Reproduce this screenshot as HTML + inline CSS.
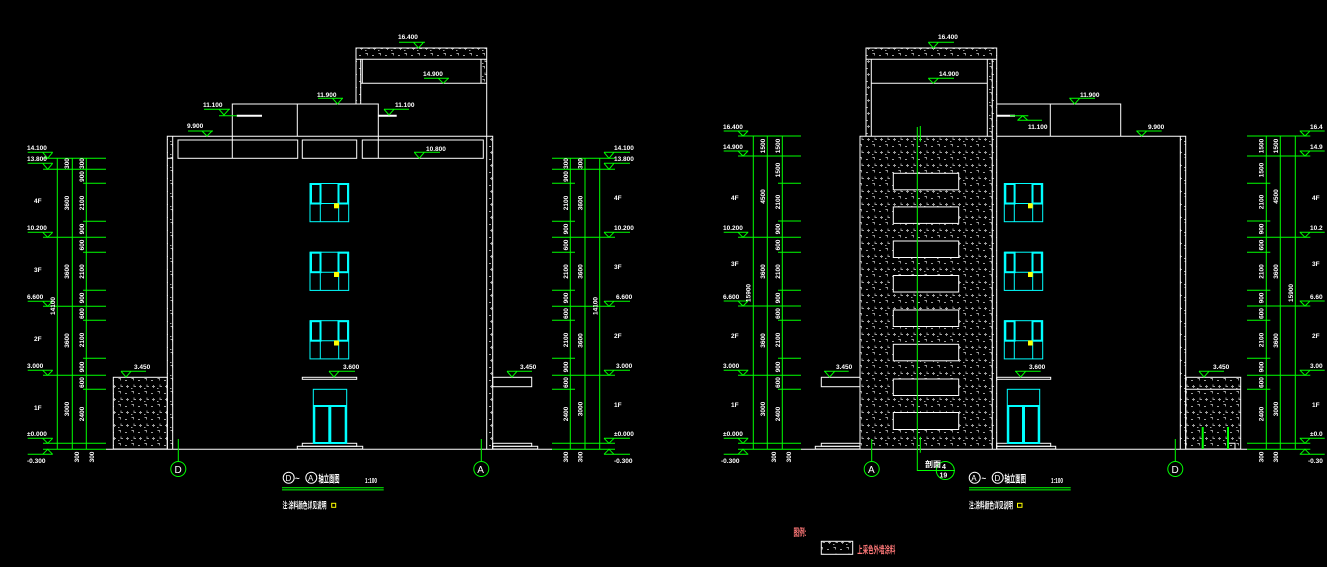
<!DOCTYPE html>
<html><head><meta charset="utf-8">
<style>
html,body{margin:0;padding:0;background:#000;}
svg{display:block;}
text{font-family:"Liberation Sans Narrow","Liberation Sans","Noto Sans CJK SC",sans-serif;font-weight:bold;fill:#fff;}
.s{font-size:6.5px;}
.w{stroke:#fff;fill:none;stroke-width:1;}
.g{stroke:#00ff00;fill:none;stroke-width:1;}
.c{stroke:#00ffff;fill:none;}
</style></head>
<body>
<svg width="1327" height="567" viewBox="0 0 1327 567" xmlns="http://www.w3.org/2000/svg">
<defs>
<pattern id="h" width="13" height="13" patternUnits="userSpaceOnUse">
<path d="M1.5 1.5h2v2 M8 3.5h2 M4 7.5v2h2 M10.5 8v3 M9 9.5h3 M1 11.5h1.5" stroke="#a0a0a0" stroke-width="0.9" fill="none"/>
</pattern>
</defs>
<rect width="1327" height="567" fill="#000"/>

<!-- ================= LEFT DRAWING ================= -->
<rect x="356" y="48" width="130.7" height="11.3" fill="url(#h)"/>
<rect x="356" y="59" width="4.7" height="45" fill="url(#h)"/>
<rect x="481" y="59" width="5.7" height="24" fill="url(#h)"/>
<rect x="167.3" y="136.3" width="5.4" height="312.7" fill="url(#h)"/>
<rect x="486.7" y="136.3" width="6" height="312.7" fill="url(#h)"/>
<rect x="113.3" y="377.3" width="54" height="71.7" fill="url(#h)"/>

<g class="w">
<path d="M356 104V48H486.7V449 M360.7 59.3V104 M362.3 59.3H481V83.3 M362.3 59.3V83.3 M360.7 83.3H486.7 M356 59.3H486.7"/>
<path d="M232.3 158.3V104H378.3V158.3 M297.3 104V136.3"/>
<path d="M167.3 449V136.3H492.7V449 M172.7 136.3V449 M167.3 158.3H172.7"/>
<rect x="178" y="140" width="119.7" height="18.3"/>
<rect x="302.3" y="140" width="54.4" height="18.3"/>
<rect x="362.3" y="140" width="121" height="18.3"/>
<rect x="113.3" y="377.3" width="54" height="71.7"/>
<rect x="492.7" y="377.3" width="39" height="9.4"/>
<rect x="492.7" y="443.3" width="39" height="3"/>
<rect x="492.7" y="446.3" width="45" height="2.7"/>
<rect x="302.3" y="377.3" width="54.4" height="2"/>
<rect x="302.3" y="443.3" width="54.4" height="3"/>
<rect x="297.3" y="446.3" width="65.4" height="2.7"/>
<path d="M106 449.3H552"/>
</g>
<path d="M236.7 115.7H262 M378.3 115.7H396.7" stroke="#fff" stroke-width="2"/>

<g class="c">
<rect x="310" y="183.5" width="38.7" height="38.2" stroke-width="1"/>
<rect x="311" y="184" width="9.5" height="19.5" stroke-width="2"/>
<rect x="338.5" y="184" width="9.5" height="19.5" stroke-width="2"/>
<path d="M310 203.5H348.7 M320.3 203.5V221.7 M338.7 203.5V221.7" stroke-width="1"/>

<rect x="310" y="252.2" width="38.7" height="38.2" stroke-width="1"/>
<rect x="311" y="252.7" width="9.5" height="19.5" stroke-width="2"/>
<rect x="338.5" y="252.7" width="9.5" height="19.5" stroke-width="2"/>
<path d="M310 272.2H348.7 M320.3 272.2V290.4 M338.7 272.2V290.4" stroke-width="1"/>

<rect x="310" y="320.7" width="38.7" height="38.2" stroke-width="1"/>
<rect x="311" y="321.2" width="9.5" height="19.5" stroke-width="2"/>
<rect x="338.5" y="321.2" width="9.5" height="19.5" stroke-width="2"/>
<path d="M310 340.7H348.7 M320.3 340.7V358.9 M338.7 340.7V358.9" stroke-width="1"/>

<rect x="313.3" y="389.3" width="33.4" height="54" stroke-width="1"/>
<rect x="314.3" y="406" width="15" height="37" stroke-width="2"/>
<rect x="330.3" y="406" width="15.4" height="37" stroke-width="2"/>
</g>
<rect x="334" y="203.3" width="5" height="5" fill="#ffff00"/>
<rect x="334" y="272" width="5" height="5" fill="#ffff00"/>
<rect x="334" y="340.5" width="5" height="5" fill="#ffff00"/>

<g class="g">
<path d="M188 131H213 M202 131L207 136L212 131"/>
<path d="M204 109.3H230 M219 109.3L224 115L229 109.3 M219 115.7H237"/>
<path d="M318 98.3H343 M332.5 98.3L337.5 104L342.5 98.3"/>
<path d="M384 109.3H409 M384 109.3L389 115L394 109.3"/>
<path d="M424 78.3H449 M438.3 78.3L443.3 83.3L448.3 78.3"/>
<path d="M399 42.3H425 M413.5 42.3L418.5 48L423.5 42.3"/>
<path d="M414 152.3H440 M414.3 152.3L419.3 158.3L424.3 152.3"/>
<path d="M121 371.3H146 M121 371.3L126 377L131 371.3"/>
<path d="M329 371.3H355 M329 371.3L334 377L339 371.3"/>
<path d="M507 371.3H532 M507 371.3L512 377L517 371.3"/>
</g>
<text class="s" x="187" y="128">9.900</text>
<text class="s" x="203" y="107">11.100</text>
<text class="s" x="317" y="97">11.900</text>
<text class="s" x="395" y="107">11.100</text>
<text class="s" x="423" y="76">14.900</text>
<text class="s" x="398" y="39">16.400</text>
<text class="s" x="426" y="151">10.800</text>
<text class="s" x="134" y="369">3.450</text>
<text class="s" x="343" y="369">3.600</text>
<text class="s" x="520" y="369">3.450</text>

<g class="g">
<path d="M178.3 439V461.5 M481.3 439V461.5"/>
<circle cx="178.3" cy="469" r="7.5"/>
<circle cx="481.3" cy="469" r="7.5"/>
</g>
<text x="174.5" y="473" style="font-size:10px;font-weight:normal">D</text>
<text x="477.3" y="473" style="font-size:10px;font-weight:normal">A</text>

<g class="w">
<circle cx="288.7" cy="477.7" r="5.5"/>
<circle cx="311.3" cy="477.7" r="5.5"/>
</g>
<text x="285.5" y="481" style="font-size:8px;font-weight:normal">D</text>
<text x="308" y="481" style="font-size:8px;font-weight:normal">A</text>
<text x="295" y="481" style="font-size:8px">~</text>
<text x="318.5" y="482.5" style="font-size:10px" textLength="21" lengthAdjust="spacingAndGlyphs">轴立面图</text>
<text x="365" y="483" style="font-size:7px" textLength="12" lengthAdjust="spacingAndGlyphs">1:100</text>
<path d="M282 487.7H383.7 M282 489.9H383.7" stroke="#00ff00" stroke-width="1"/>
<text x="282.5" y="508.5" style="font-size:9px" textLength="44" lengthAdjust="spacingAndGlyphs">注:涂料颜色详见说明</text>
<rect x="331.7" y="503.3" width="4" height="4" fill="none" stroke="#ffff00" stroke-width="1"/>

<g class="g">
<path d="M57.3 158.3V449.3 M72.3 158.3V449.3 M86.3 158.3V449.3"/>
<path d="M43 158.3H106 M43 169.3H106 M43 237.3H106 M43 306.3H106 M43 375.3H106 M43 443.3H106 M43 449.3H106"/>
<path d="M83 183.3H106 M83 221.3H106 M83 252.3H106 M83 290.3H106 M83 320.3H106 M83 358.3H106 M83 389.3H106"/>
<path d="M27.7 152.3H52.7 M42.7 152.3L47.7 158.3L52.7 152.3"/>
<path d="M27.7 163.3H52.7 M42.7 163.3L47.7 169.3L52.7 163.3"/>
<path d="M27.7 232.3H52.7 M42.7 232.3L47.7 237.3L52.7 232.3"/>
<path d="M27.7 301.3H52.7 M42.7 301.3L47.7 306.3L52.7 301.3"/>
<path d="M27.7 370.3H52.7 M42.7 370.3L47.7 375.3L52.7 370.3"/>
<path d="M27.7 438.3H52.7 M42.7 438.3L47.7 443.3L52.7 438.3"/>
<path d="M27.7 454.3H52.7 M42.7 454.3L47.7 449.3L52.7 454.3"/>
</g>
<text x="27" y="150" class="s">14.100</text>
<text x="27" y="161" class="s">13.800</text>
<text x="27" y="230" class="s">10.200</text>
<text x="27" y="299" class="s">6.600</text>
<text x="27" y="368" class="s">3.000</text>
<text x="27" y="436" class="s">±0.000</text>
<text x="27" y="463" class="s">-0.300</text>
<text x="34" y="203" class="s">4F</text>
<text x="34" y="272" class="s">3F</text>
<text x="34" y="341" class="s">2F</text>
<text x="34" y="410" class="s">1F</text>
<g>
<text class="s" transform="translate(69,163.5) rotate(-90)" text-anchor="middle">300</text>
<text class="s" transform="translate(69,203) rotate(-90)" text-anchor="middle">3600</text>
<text class="s" transform="translate(69,271.5) rotate(-90)" text-anchor="middle">3600</text>
<text class="s" transform="translate(69,340.5) rotate(-90)" text-anchor="middle">3600</text>
<text class="s" transform="translate(69,409) rotate(-90)" text-anchor="middle">3000</text>
<text class="s" transform="translate(84,163.5) rotate(-90)" text-anchor="middle">300</text>
<text class="s" transform="translate(84,176.5) rotate(-90)" text-anchor="middle">900</text>
<text class="s" transform="translate(84,203) rotate(-90)" text-anchor="middle">2100</text>
<text class="s" transform="translate(84,229) rotate(-90)" text-anchor="middle">900</text>
<text class="s" transform="translate(84,245) rotate(-90)" text-anchor="middle">600</text>
<text class="s" transform="translate(84,271.5) rotate(-90)" text-anchor="middle">2100</text>
<text class="s" transform="translate(84,298) rotate(-90)" text-anchor="middle">900</text>
<text class="s" transform="translate(84,313.5) rotate(-90)" text-anchor="middle">600</text>
<text class="s" transform="translate(84,340) rotate(-90)" text-anchor="middle">2100</text>
<text class="s" transform="translate(84,367) rotate(-90)" text-anchor="middle">900</text>
<text class="s" transform="translate(84,382.5) rotate(-90)" text-anchor="middle">600</text>
<text class="s" transform="translate(84,414) rotate(-90)" text-anchor="middle">2400</text>
<text class="s" transform="translate(55,306) rotate(-90)" text-anchor="middle">14100</text>
<text class="s" transform="translate(79,457) rotate(-90)" text-anchor="middle">300</text>
<text class="s" transform="translate(94,457) rotate(-90)" text-anchor="middle">300</text>
</g>

<g class="g">
<path d="M570.3 158.3V449.3 M585 158.3V449.3 M599.7 158.3V449.3"/>
<path d="M552 158.3H615 M552 169.3H615 M552 237.3H615 M552 306.3H615 M552 375.3H615 M552 443.3H615 M552 449.3H615"/>
<path d="M552 183.3H575 M552 221.3H575 M552 252.3H575 M552 290.3H575 M552 320.3H575 M552 358.3H575 M552 389.3H575"/>
<path d="M604 152.3H630 M604 152.3L609 158.3L614 152.3"/>
<path d="M604 163.3H630 M604 163.3L609 169.3L614 163.3"/>
<path d="M604 232.3H630 M604 232.3L609 237.3L614 232.3"/>
<path d="M604 301.3H630 M604 301.3L609 306.3L614 301.3"/>
<path d="M604 370.3H630 M604 370.3L609 375.3L614 370.3"/>
<path d="M604 438.3H630 M604 438.3L609 443.3L614 438.3"/>
<path d="M604 454.3H630 M604 454.3L609 449.3L614 454.3"/>
</g>
<text x="614" y="150" class="s">14.100</text>
<text x="614" y="161" class="s">13.800</text>
<text x="614" y="230" class="s">10.200</text>
<text x="616" y="299" class="s">6.600</text>
<text x="616" y="368" class="s">3.000</text>
<text x="614" y="436" class="s">±0.000</text>
<text x="614" y="463" class="s">-0.300</text>
<text x="614" y="200" class="s">4F</text>
<text x="614" y="269" class="s">3F</text>
<text x="614" y="338" class="s">2F</text>
<text x="614" y="407" class="s">1F</text>
<g>
<text class="s" transform="translate(568,163.5) rotate(-90)" text-anchor="middle">300</text>
<text class="s" transform="translate(568,176.5) rotate(-90)" text-anchor="middle">900</text>
<text class="s" transform="translate(568,203) rotate(-90)" text-anchor="middle">2100</text>
<text class="s" transform="translate(568,229) rotate(-90)" text-anchor="middle">900</text>
<text class="s" transform="translate(568,245) rotate(-90)" text-anchor="middle">600</text>
<text class="s" transform="translate(568,271.5) rotate(-90)" text-anchor="middle">2100</text>
<text class="s" transform="translate(568,298) rotate(-90)" text-anchor="middle">900</text>
<text class="s" transform="translate(568,313.5) rotate(-90)" text-anchor="middle">600</text>
<text class="s" transform="translate(568,340) rotate(-90)" text-anchor="middle">2100</text>
<text class="s" transform="translate(568,367) rotate(-90)" text-anchor="middle">900</text>
<text class="s" transform="translate(568,382.5) rotate(-90)" text-anchor="middle">600</text>
<text class="s" transform="translate(568,414) rotate(-90)" text-anchor="middle">2400</text>
<text class="s" transform="translate(582.5,163.5) rotate(-90)" text-anchor="middle">300</text>
<text class="s" transform="translate(582.5,203) rotate(-90)" text-anchor="middle">3600</text>
<text class="s" transform="translate(582.5,271.5) rotate(-90)" text-anchor="middle">3600</text>
<text class="s" transform="translate(582.5,340.5) rotate(-90)" text-anchor="middle">3600</text>
<text class="s" transform="translate(582.5,409) rotate(-90)" text-anchor="middle">3000</text>
<text class="s" transform="translate(597.5,306) rotate(-90)" text-anchor="middle">14100</text>
<text class="s" transform="translate(568,457) rotate(-90)" text-anchor="middle">300</text>
<text class="s" transform="translate(582.5,457) rotate(-90)" text-anchor="middle">300</text>
</g>

<!-- ================= RIGHT DRAWING ================= -->
<rect x="866" y="48" width="130.7" height="11.3" fill="url(#h)"/>
<rect x="866" y="59" width="5.3" height="77.3" fill="url(#h)"/>
<rect x="987.3" y="59" width="9.4" height="77.3" fill="url(#h)"/>
<rect x="860" y="136.3" width="132.3" height="312.7" fill="url(#h)"/>
<rect x="992.3" y="136.3" width="4.4" height="312.7" fill="url(#h)"/>
<rect x="1180.3" y="136.3" width="5.4" height="312.7" fill="url(#h)"/>
<rect x="1185.7" y="377.3" width="55" height="71.7" fill="url(#h)"/>

<g class="w">
<path d="M866 136.3V48H996.7V449 M866 59.3H996.7 M871.3 59.3V136.3 M987.3 59.3V136.3 M871.3 83.3H987.3 M992.3 59.3V449"/>
<path d="M860 449V136.3H992.3"/>
<path d="M996.7 104H1120.7V136.3 M1050.3 104V136.3"/>
<path d="M996.7 136.3H1185.7V449 M1180.3 136.3V449"/>
<rect x="893.3" y="173.3" width="65.4" height="16.5" fill="#000"/>
<rect x="893.3" y="206.9" width="65.4" height="16.5" fill="#000"/>
<rect x="893.3" y="241" width="65.4" height="16.5" fill="#000"/>
<rect x="893.3" y="275.5" width="65.4" height="16.5" fill="#000"/>
<rect x="893.3" y="310" width="65.4" height="16.5" fill="#000"/>
<rect x="893.3" y="344.3" width="65.4" height="16.5" fill="#000"/>
<rect x="893.3" y="379" width="65.4" height="16.5" fill="#000"/>
<rect x="893.3" y="412.5" width="65.4" height="17" fill="#000"/>
<rect x="821.3" y="377.3" width="38.7" height="9.4"/>
<rect x="821.3" y="443.3" width="38.7" height="3"/>
<rect x="815.3" y="446.3" width="44.7" height="2.7"/>
<rect x="1185.7" y="377.3" width="55" height="71.7"/>
<path d="M1185.7 389.3H1240.7 M1229 443.3H1235V449"/>
<rect x="996.7" y="377.3" width="54" height="2"/>
<rect x="996.7" y="443.3" width="54" height="3"/>
<rect x="996.7" y="446.3" width="59" height="2.7"/>
<path d="M801 449.3H1247"/>
</g>
<path d="M996.7 115.7H1015" stroke="#fff" stroke-width="2"/>

<g class="c">
<rect x="1004.3" y="183.5" width="38.4" height="38.2" stroke-width="1"/>
<rect x="1005.3" y="184" width="9.3" height="19.5" stroke-width="2"/>
<rect x="1032.5" y="184" width="9.3" height="19.5" stroke-width="2"/>
<path d="M1004.3 203.5H1042.7 M1014.3 203.5V221.7 M1032.7 203.5V221.7" stroke-width="1"/>

<rect x="1004.3" y="252.2" width="38.4" height="38.2" stroke-width="1"/>
<rect x="1005.3" y="252.7" width="9.3" height="19.5" stroke-width="2"/>
<rect x="1032.5" y="252.7" width="9.3" height="19.5" stroke-width="2"/>
<path d="M1004.3 272.2H1042.7 M1014.3 272.2V290.4 M1032.7 272.2V290.4" stroke-width="1"/>

<rect x="1004.3" y="320.7" width="38.4" height="38.2" stroke-width="1"/>
<rect x="1005.3" y="321.2" width="9.3" height="19.5" stroke-width="2"/>
<rect x="1032.5" y="321.2" width="9.3" height="19.5" stroke-width="2"/>
<path d="M1004.3 340.7H1042.7 M1014.3 340.7V358.9 M1032.7 340.7V358.9" stroke-width="1"/>

<rect x="1007.3" y="389.3" width="32.4" height="54" stroke-width="1"/>
<rect x="1008.3" y="406" width="14.7" height="37" stroke-width="2"/>
<rect x="1024" y="406" width="14.7" height="37" stroke-width="2"/>
</g>
<rect x="1028" y="203.3" width="4.7" height="5" fill="#ffff00"/>
<rect x="1028" y="272" width="4.7" height="5" fill="#ffff00"/>
<rect x="1028" y="340.5" width="4.7" height="5" fill="#ffff00"/>

<g class="g">
<path d="M917.3 127V470.5H955"/>
<path d="M920.3 126V141.7 M920.3 436.7V452.7"/>
<circle cx="945.3" cy="470.5" r="9"/>
<path d="M871.7 439V461.5 M1175.3 439V461.5"/>
<circle cx="871.7" cy="469" r="7.5"/>
<circle cx="1175.3" cy="469" r="7.5"/>
<path d="M928.3 42.3H954 M928.3 42.3L933.3 48L938.3 42.3"/>
<path d="M928.3 78.3H954 M928.3 78.3L933.3 83.3L938.3 78.3"/>
<path d="M1069.3 98.3H1095 M1069.7 98.3L1074.7 104L1079.7 98.3"/>
<path d="M1010 115.7H1028.3 M1017.7 120.3L1022.7 115.7L1027.7 120.3 M1017.3 120.3H1042"/>
<path d="M1136.3 131H1161.7 M1136.7 131L1141.7 136L1146.7 131"/>
<path d="M824 371.3H848.7 M824.7 371.3L829.7 377L834.7 371.3"/>
<path d="M1015 371.3H1040.7 M1015.7 371.3L1020.7 377L1025.7 371.3"/>
<path d="M1199 371.3H1224 M1199 371.3L1204 377L1209 371.3"/>
</g>
<path d="M1202.7 427V449 M1228 427V449" stroke="#00ff00" stroke-width="2"/>
<text x="942" y="469" style="font-size:7px">4</text>
<text x="939.5" y="477.5" style="font-size:7px">19</text>
<text x="925" y="467" style="font-size:8px">剖面</text>
<text x="868" y="473" style="font-size:10px;font-weight:normal">A</text>
<text x="1171.5" y="473" style="font-size:10px;font-weight:normal">D</text>
<text class="s" x="938" y="39">16.400</text>
<text class="s" x="939" y="76">14.900</text>
<text class="s" x="1080" y="97">11.900</text>
<text class="s" x="1028" y="129">11.100</text>
<text class="s" x="1148" y="129">9.900</text>
<text class="s" x="836" y="369">3.450</text>
<text class="s" x="1029" y="369">3.600</text>
<text class="s" x="1213" y="369">3.450</text>

<g class="w">
<circle cx="974.7" cy="477.7" r="5.5"/>
<circle cx="997.7" cy="477.7" r="5.5"/>
</g>
<text x="971.3" y="481" style="font-size:8px;font-weight:normal">A</text>
<text x="994.5" y="481" style="font-size:8px;font-weight:normal">D</text>
<text x="981.5" y="481" style="font-size:8px">~</text>
<text x="1004.5" y="482.5" style="font-size:10px" textLength="21.5" lengthAdjust="spacingAndGlyphs">轴立面图</text>
<text x="1051" y="483" style="font-size:7px" textLength="12" lengthAdjust="spacingAndGlyphs">1:100</text>
<path d="M969 487.7H1070.7 M969 489.9H1070.7" stroke="#00ff00" stroke-width="1"/>
<text x="969" y="508.5" style="font-size:9px" textLength="44" lengthAdjust="spacingAndGlyphs">注:涂料颜色详见说明</text>
<rect x="1017.5" y="503.3" width="4.5" height="4" fill="none" stroke="#ffff00" stroke-width="1"/>

<g class="g">
<path d="M753.3 136V449.3 M767.3 136V449.3 M782.3 136V449.3"/>
<path d="M738 136H801 M738 156H801 M738 237.3H801 M738 306H801 M738 375.3H801 M738 443.3H801 M738 449.3H801"/>
<path d="M778 183.3H801 M778 221H801 M778 252.3H801 M778 290.3H801 M778 320.3H801 M778 358.3H801 M778 389.3H801"/>
<path d="M723.7 131H748.3 M738 131L743 136L748 131"/>
<path d="M723.7 151H748.3 M738 151L743 156L748 151"/>
<path d="M723.7 232.3H748.3 M738 232.3L743 237.3L748 232.3"/>
<path d="M723.7 301H748.3 M738 301L743 306L748 301"/>
<path d="M723.7 370.3H748.3 M738 370.3L743 375.3L748 370.3"/>
<path d="M723.7 438.3H748.3 M738 438.3L743 443.3L748 438.3"/>
<path d="M723.7 454.3H748.3 M738 454.3L743 449.3L748 454.3"/>
</g>
<text x="723" y="129" class="s">16.400</text>
<text x="723" y="149" class="s">14.900</text>
<text x="723" y="230" class="s">10.200</text>
<text x="723" y="299" class="s">6.600</text>
<text x="723" y="368" class="s">3.000</text>
<text x="723" y="436" class="s">±0.000</text>
<text x="721" y="463" class="s">-0.300</text>
<text x="731" y="200" class="s">4F</text>
<text x="731" y="266" class="s">3F</text>
<text x="731" y="338" class="s">2F</text>
<text x="731" y="407" class="s">1F</text>
<g>
<text class="s" transform="translate(765,146) rotate(-90)" text-anchor="middle">1500</text>
<text class="s" transform="translate(765,196.5) rotate(-90)" text-anchor="middle">4500</text>
<text class="s" transform="translate(765,271.5) rotate(-90)" text-anchor="middle">3600</text>
<text class="s" transform="translate(765,340.5) rotate(-90)" text-anchor="middle">3600</text>
<text class="s" transform="translate(765,409) rotate(-90)" text-anchor="middle">3000</text>
<text class="s" transform="translate(780,146) rotate(-90)" text-anchor="middle">1500</text>
<text class="s" transform="translate(780,170) rotate(-90)" text-anchor="middle">1500</text>
<text class="s" transform="translate(780,202) rotate(-90)" text-anchor="middle">2100</text>
<text class="s" transform="translate(780,229) rotate(-90)" text-anchor="middle">900</text>
<text class="s" transform="translate(780,245) rotate(-90)" text-anchor="middle">600</text>
<text class="s" transform="translate(780,271.5) rotate(-90)" text-anchor="middle">2100</text>
<text class="s" transform="translate(780,298) rotate(-90)" text-anchor="middle">900</text>
<text class="s" transform="translate(780,313.5) rotate(-90)" text-anchor="middle">600</text>
<text class="s" transform="translate(780,340) rotate(-90)" text-anchor="middle">2100</text>
<text class="s" transform="translate(780,367) rotate(-90)" text-anchor="middle">900</text>
<text class="s" transform="translate(780,382.5) rotate(-90)" text-anchor="middle">600</text>
<text class="s" transform="translate(780,414) rotate(-90)" text-anchor="middle">2400</text>
<text class="s" transform="translate(750.5,293) rotate(-90)" text-anchor="middle">15900</text>
<text class="s" transform="translate(776,457) rotate(-90)" text-anchor="middle">300</text>
<text class="s" transform="translate(791,457) rotate(-90)" text-anchor="middle">300</text>
</g>

<g class="g">
<path d="M1266.3 136V449.3 M1280.3 136V449.3 M1295.3 136V449.3"/>
<path d="M1247 136H1310.3 M1247 156H1310.3 M1247 237.3H1310.3 M1247 306H1310.3 M1247 375.3H1310.3 M1247 443.3H1310.3 M1247 449.3H1310.3"/>
<path d="M1247 183.3H1270.3 M1247 221H1270.3 M1247 252.3H1270.3 M1247 290.3H1270.3 M1247 320.3H1270.3 M1247 358.3H1270.3 M1247 389.3H1270.3"/>
<path d="M1299.7 131H1324.7 M1300 131L1305 136L1310 131"/>
<path d="M1299.7 151H1324.7 M1300 151L1305 156L1310 151"/>
<path d="M1299.7 232.3H1324.7 M1300 232.3L1305 237.3L1310 232.3"/>
<path d="M1299.7 301H1324.7 M1300 301L1305 306L1310 301"/>
<path d="M1299.7 370.3H1324.7 M1300 370.3L1305 375.3L1310 370.3"/>
<path d="M1299.7 438.3H1324.7 M1300 438.3L1305 443.3L1310 438.3"/>
<path d="M1299.7 454.3H1324.7 M1300 454.3L1305 449.3L1310 454.3"/>
</g>
<text x="1310" y="129" class="s">16.4</text>
<text x="1310" y="149" class="s">14.9</text>
<text x="1310" y="230" class="s">10.2</text>
<text x="1310" y="299" class="s">6.60</text>
<text x="1310" y="368" class="s">3.00</text>
<text x="1310" y="436" class="s">±0.0</text>
<text x="1308" y="463" class="s">-0.30</text>
<text x="1312" y="200" class="s">4F</text>
<text x="1312" y="266" class="s">3F</text>
<text x="1312" y="338" class="s">2F</text>
<text x="1312" y="407" class="s">1F</text>
<g>
<text class="s" transform="translate(1263.5,146) rotate(-90)" text-anchor="middle">1500</text>
<text class="s" transform="translate(1263.5,170) rotate(-90)" text-anchor="middle">1500</text>
<text class="s" transform="translate(1263.5,202) rotate(-90)" text-anchor="middle">2100</text>
<text class="s" transform="translate(1263.5,229) rotate(-90)" text-anchor="middle">900</text>
<text class="s" transform="translate(1263.5,245) rotate(-90)" text-anchor="middle">600</text>
<text class="s" transform="translate(1263.5,271.5) rotate(-90)" text-anchor="middle">2100</text>
<text class="s" transform="translate(1263.5,298) rotate(-90)" text-anchor="middle">900</text>
<text class="s" transform="translate(1263.5,313.5) rotate(-90)" text-anchor="middle">600</text>
<text class="s" transform="translate(1263.5,340) rotate(-90)" text-anchor="middle">2100</text>
<text class="s" transform="translate(1263.5,367) rotate(-90)" text-anchor="middle">900</text>
<text class="s" transform="translate(1263.5,382.5) rotate(-90)" text-anchor="middle">600</text>
<text class="s" transform="translate(1263.5,414) rotate(-90)" text-anchor="middle">2400</text>
<text class="s" transform="translate(1278,146) rotate(-90)" text-anchor="middle">1500</text>
<text class="s" transform="translate(1278,196.5) rotate(-90)" text-anchor="middle">4500</text>
<text class="s" transform="translate(1278,271.5) rotate(-90)" text-anchor="middle">3600</text>
<text class="s" transform="translate(1278,340.5) rotate(-90)" text-anchor="middle">3600</text>
<text class="s" transform="translate(1278,409) rotate(-90)" text-anchor="middle">3000</text>
<text class="s" transform="translate(1293,293) rotate(-90)" text-anchor="middle">15900</text>
<text class="s" transform="translate(1263.5,457) rotate(-90)" text-anchor="middle">300</text>
<text class="s" transform="translate(1278,457) rotate(-90)" text-anchor="middle">300</text>
</g>

<text x="793.5" y="536" style="font-size:10px;fill:#ff7878" textLength="13" lengthAdjust="spacingAndGlyphs">图例:</text>
<rect x="821.3" y="541.3" width="31.4" height="13" fill="url(#h)" stroke="#fff" stroke-width="1"/>
<text x="857.3" y="553.5" style="font-size:10px;fill:#ff7878" textLength="38" lengthAdjust="spacingAndGlyphs">上采色外墙涂料</text>
</svg>
</body></html>
